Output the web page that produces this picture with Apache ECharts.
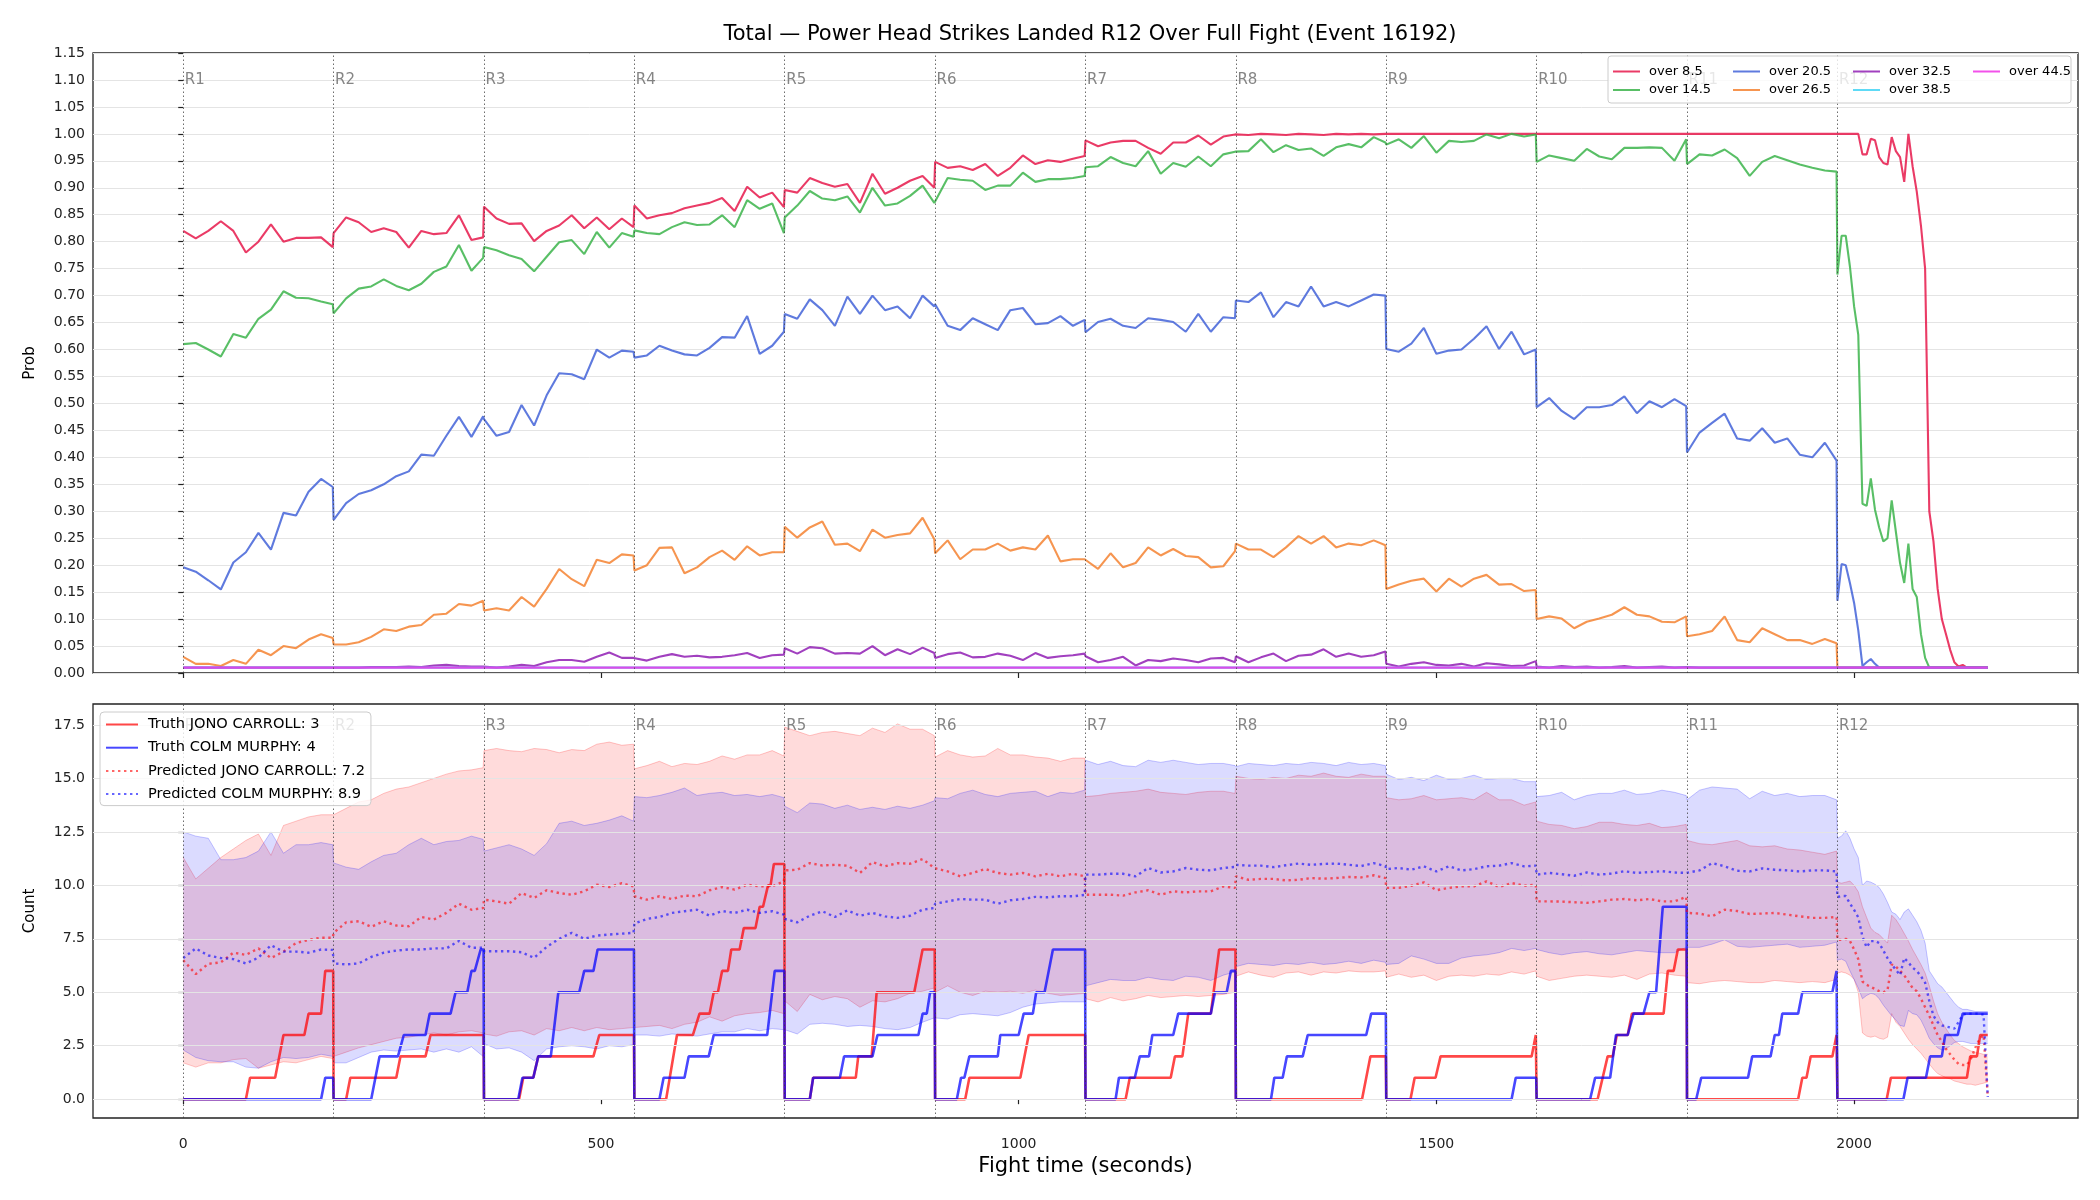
<!DOCTYPE html>
<html>
<head>
<meta charset="utf-8">
<title>Power Head Strikes Landed R12 Over Full Fight</title>
<script src="https://cdn.jsdelivr.net/npm/echarts@6/dist/echarts.min.js"></script>
<style>
html,body{margin:0;padding:0;background:#fff;}
#chart{width:2100px;height:1200px;}
</style>
</head>
<body>
<div id="chart"></div>
<script>
var roundStarts = [0,180,360,540,720,900,1080,1260,1440,1620,1800,1980];
var roundNames = ['R1','R2','R3','R4','R5','R6','R7','R8','R9','R10','R11','R12'];
var xTicks = [0,500,1000,1500,2000];
var countTicks = [0,2.5,5,7.5,10,12.5,15,17.5];

// sample times: 15 s inside rounds 1-11, 5 s in round 12
var tRounds = [
 0,15,30,45,60,75,90,105,120,135,150,165,179,
 180,195,210,225,240,255,270,285,300,315,330,345,359,
 360,375,390,405,420,435,450,465,480,495,510,525,539,
 540,555,570,585,600,615,630,645,660,675,690,705,719,
 720,735,750,765,780,795,810,825,840,855,870,885,899,
 900,915,930,945,960,975,990,1005,1020,1035,1050,1065,1079,
 1080,1095,1110,1125,1140,1155,1170,1185,1200,1215,1230,1245,1259,
 1260,1275,1290,1305,1320,1335,1350,1365,1380,1395,1410,1425,1439,
 1440,1455,1470,1485,1500,1515,1530,1545,1560,1575,1590,1605,1619,
 1620,1635,1650,1665,1680,1695,1710,1725,1740,1755,1770,1785,1799,
 1800,1815,1830,1845,1860,1875,1890,1905,1920,1935,1950,1965,1979];
var tFinal = [1980,1985,1990,1995,2000,2005,2010,2015,2020,2025,2030,2035,2040,2045,2050,2055,2060,2065,2070,2075,2080,2085,2090,2095,2100,2105,2110,2115,2120,2125,2130,2135,2140,2145,2150,2155,2160];
var times = tRounds.concat(tFinal);
var flatT = [0,2160];

var over85 = [
 .82,.806,.82,.838,.82,.78,.80,.832,.80,.807,.807,.808,.79,
 .816,.845,.836,.818,.825,.818,.789,.82,.814,.816,.849,.803,.808,
 .865,.843,.833,.834,.801,.82,.83,.849,.825,.845,.823,.843,.827,
 .867,.843,.849,.853,.862,.867,.872,.881,.857,.902,.882,.891,.864,
 .896,.891,.918,.909,.902,.907,.872,.926,.889,.90,.913,.922,.90,
 .948,.937,.94,.933,.944,.922,.937,.96,.944,.951,.948,.954,.959,
 .988,.977,.984,.987,.987,.974,.963,.984,.984,.997,.98,.995,.999,
 .999,.998,1,.999,.998,1,.999,.998,1,.999,1,.999,1,
 1,1,1,1,1,1,1,1,1,1,1,1,1,
 1,1,1,1,1,1,1,1,1,1,1,1,1,
 1,1,1,1,1,1,1,1,1,1,1,1,1,
 1,1,1,1,1,1,.962,.962,.991,.988,.957,.946,.943,.994,.968,.957,.911,1,.94,.893,.83,.75,.30,.244,.156,.10,.072,.043,.02,.012,.015,.01,.01,.01,.01,.01,.01];
var over145 = [
 .61,.612,.60,.587,.629,.622,.657,.674,.708,.696,.695,.689,.684,
 .667,.695,.713,.717,.73,.718,.71,.722,.744,.754,.794,.746,.77,
 .79,.784,.775,.768,.745,.772,.799,.803,.777,.818,.789,.816,.809,
 .821,.816,.814,.827,.836,.831,.832,.849,.827,.877,.861,.871,.816,
 .845,.867,.894,.88,.877,.884,.854,.90,.867,.871,.885,.904,.872,
 .874,.918,.915,.913,.896,.904,.904,.928,.911,.916,.916,.918,.922,
 .938,.94,.957,.946,.94,.968,.926,.946,.939,.958,.94,.962,.967,
 .967,.968,.99,.966,.979,.97,.973,.959,.975,.981,.975,.994,.984,
 .98,.99,.974,.996,.965,.987,.985,.987,.999,.992,1,.995,.999,
 .948,.96,.955,.95,.972,.958,.953,.974,.974,.975,.974,.95,.99,
 .944,.962,.96,.971,.955,.922,.948,.959,.951,.943,.937,.932,.93,
 .739,.811,.811,.754,.68,.627,.314,.31,.361,.303,.27,.244,.25,.32,.262,.204,.167,.24,.156,.141,.072,.028,.01,.01,.01,.01,.01,.01,.01,.01,.01,.01,.01,.01,.01,.01,.01];
var over205 = [
 .196,.188,.172,.155,.205,.224,.26,.229,.297,.292,.336,.36,.345,
 .284,.315,.332,.339,.35,.365,.374,.405,.403,.44,.475,.438,.476,
 .471,.44,.447,.497,.459,.515,.556,.554,.545,.60,.585,.598,.596,
 .585,.589,.607,.598,.591,.589,.603,.623,.622,.662,.592,.607,.633,
 .666,.657,.693,.673,.644,.698,.666,.70,.673,.68,.658,.70,.68,
 .684,.644,.636,.658,.647,.636,.673,.677,.647,.649,.662,.644,.655,
 .632,.651,.657,.644,.64,.658,.655,.651,.633,.666,.633,.66,.658,
 .691,.688,.706,.66,.688,.68,.717,.68,.688,.68,.691,.702,.70,
 .601,.596,.611,.64,.592,.598,.60,.62,.643,.601,.633,.591,.60,
 .493,.51,.486,.471,.493,.493,.497,.513,.482,.504,.493,.508,.495,
 .409,.446,.464,.481,.435,.431,.454,.427,.435,.405,.40,.427,.394,
 .134,.202,.20,.167,.13,.079,.013,.02,.026,.017,.01,.01,.01,.01,.01,.01,.01,.01,.01,.01,.01,.01,.01,.01,.01,.01,.01,.01,.01,.01,.01,.01,.01,.01,.01,.01,.01];
var over265 = [
 .03,.017,.017,.013,.024,.017,.043,.033,.05,.046,.062,.072,.065,
 .053,.053,.057,.067,.081,.078,.086,.089,.108,.11,.128,.125,.134,
 .116,.12,.116,.141,.123,.156,.193,.174,.161,.21,.204,.22,.218,
 .19,.20,.232,.233,.185,.196,.215,.227,.21,.235,.218,.224,.224,
 .271,.251,.27,.281,.238,.24,.226,.266,.251,.256,.259,.288,.248,
 .222,.246,.211,.229,.229,.24,.227,.233,.229,.255,.207,.211,.211,
 .211,.193,.222,.196,.204,.233,.218,.23,.217,.215,.196,.198,.226,
 .24,.229,.229,.215,.233,.254,.24,.254,.233,.24,.237,.246,.237,
 .156,.164,.171,.175,.151,.175,.16,.175,.182,.164,.165,.152,.154,
 .10,.105,.101,.083,.095,.101,.108,.122,.108,.105,.095,.094,.105,
 .068,.072,.078,.105,.061,.057,.083,.072,.061,.061,.054,.063,.055,
 .01,.01,.01,.01,.01,.01,.01,.01,.01,.01,.01,.01,.01,.01,.01,.01,.01,.01,.01,.01,.01,.01,.01,.01,.01,.01,.01,.01,.01,.01,.01,.01,.01,.01,.01,.01,.01];
var over325 = [
 .01,.01,.01,.01,.01,.01,.01,.01,.01,.01,.01,.01,.01,
 .01,.01,.01,.011,.011,.011,.012,.011,.014,.015,.013,.012,.012,
 .013,.01,.012,.015,.013,.02,.024,.024,.021,.03,.038,.028,.028,
 .028,.023,.03,.035,.03,.032,.029,.03,.033,.037,.028,.033,.034,
 .046,.036,.048,.046,.036,.037,.036,.05,.033,.044,.035,.047,.037,
 .028,.035,.038,.029,.03,.036,.032,.024,.037,.028,.031,.033,.036,
 .031,.02,.024,.03,.014,.024,.022,.027,.024,.02,.027,.028,.02,
 .031,.02,.029,.036,.022,.032,.034,.044,.03,.036,.03,.033,.04,
 .017,.012,.017,.02,.015,.014,.017,.012,.018,.016,.013,.014,.022,
 .012,.01,.013,.011,.012,.01,.011,.013,.01,.011,.012,.01,.011,
 .01,.01,.01,.01,.01,.01,.01,.01,.01,.01,.01,.01,.01,
 .01,.01,.01,.01,.01,.01,.01,.01,.01,.01,.01,.01,.01,.01,.01,.01,.01,.01,.01,.01,.01,.01,.01,.01,.01,.01,.01,.01,.01,.01,.01,.01,.01,.01,.01,.01,.01];
var over385 = [.01,.01];
var over445 = [.01,.01];

var predRed = [
 6.5,5.85,6.33,6.4,6.85,6.75,7.05,6.6,6.9,7.3,7.45,7.55,7.55,
 7.78,8.27,8.32,8.06,8.32,8.12,8.09,8.52,8.4,8.71,9.14,8.86,8.94,
 9.33,9.25,9.14,9.64,9.41,9.77,9.64,9.56,9.72,10.03,9.92,10.1,9.95,
 9.49,9.33,9.49,9.36,9.52,9.49,9.77,9.92,9.8,10.03,9.95,9.95,10.19,
 10.7,10.73,11.04,10.93,10.96,10.92,10.58,11.09,10.89,11.04,11.01,11.23,10.81,
 10.73,10.65,10.42,10.58,10.76,10.58,10.5,10.58,10.42,10.54,10.42,10.54,10.42,
 9.56,9.56,9.56,9.52,9.67,9.77,9.56,9.72,9.67,9.72,9.72,9.95,9.88,
 10.42,10.26,10.3,10.3,10.23,10.26,10.34,10.31,10.34,10.39,10.37,10.47,10.34,
 9.88,9.88,9.98,10.14,9.77,9.88,9.95,9.95,10.19,9.92,10.11,9.98,10.03,
 9.25,9.25,9.24,9.21,9.18,9.25,9.33,9.36,9.3,9.36,9.25,9.25,9.46,
 8.71,8.68,8.55,8.86,8.8,8.66,8.68,8.71,8.63,8.55,8.48,8.48,8.52,
 7.45,7.45,7.5,7.4,7.0,6.55,5.5,5.35,5.25,5.15,5.05,5.0,5.1,6.3,6.2,6.0,5.8,5.5,5.2,5.05,4.7,4.3,3.9,3.45,3.0,2.7,2.35,2.1,1.85,1.65,1.6,1.6,1.9,2.4,2.8,3.0,0.15];
var predBlue = [
 6.6,7.05,6.72,6.6,6.55,6.35,6.62,7.2,6.9,6.9,6.85,7.0,6.98,
 6.35,6.3,6.35,6.65,6.85,6.95,7.0,7.0,7.05,7.05,7.4,7.08,7.08,
 6.92,6.92,6.92,6.87,6.61,7.12,7.5,7.78,7.5,7.65,7.7,7.74,7.78,
 8.21,8.43,8.52,8.71,8.79,8.86,8.58,8.8,8.71,8.86,8.71,8.79,8.63,
 8.43,8.27,8.58,8.79,8.52,8.83,8.58,8.71,8.55,8.48,8.58,8.86,8.94,
 9.14,9.25,9.36,9.33,9.33,9.14,9.3,9.36,9.46,9.44,9.49,9.49,9.55,
 10.5,10.5,10.54,10.54,10.42,10.81,10.6,10.65,10.81,10.73,10.7,10.81,10.86,
 10.96,10.92,10.92,10.85,10.94,11.02,10.96,11.0,11.02,10.96,10.9,11.04,10.9,
 10.76,10.81,10.73,10.89,10.65,10.89,10.7,10.76,10.89,10.92,11.04,10.89,10.92,
 10.5,10.58,10.52,10.45,10.6,10.5,10.55,10.66,10.58,10.62,10.66,10.6,10.58,
 10.58,10.7,11.04,10.89,10.68,10.65,10.79,10.73,10.7,10.65,10.7,10.7,10.65,
 9.45,9.5,9.5,9.15,8.85,8.5,7.6,7.1,7.4,7.4,7.3,6.95,6.6,6.3,6.05,5.8,6.6,6.4,6.15,6.0,5.75,5.45,4.6,3.9,3.6,3.45,3.4,3.35,3.3,3.6,3.95,4.0,4.0,4.0,4.0,3.95,0.1];

var redUp = [
 11.3,10.3,10.8,11.3,11.7,12.1,12.4,11.4,12.8,13.0,13.2,13.3,13.3,
 13.3,13.6,13.9,14.0,14.3,14.5,14.6,14.8,15.0,15.2,15.35,15.4,15.5,
 16.3,16.4,16.3,16.25,16.4,16.35,16.2,16.35,16.3,16.6,16.7,16.55,16.6,
 15.45,15.6,15.8,15.55,15.7,15.65,15.8,16.05,15.9,16.1,16.1,16.3,16.05,
 17.4,17.2,17.0,17.15,17.2,17.1,17.0,17.35,17.15,17.55,17.3,17.3,17.0,
 16.0,16.3,16.1,16.0,16.05,16.4,16.1,16.1,16.0,15.95,15.8,15.95,15.95,
 14.15,14.2,14.3,14.35,14.4,14.5,14.35,14.3,14.25,14.35,14.4,14.4,14.3,
 15.1,15.0,14.95,15.05,15.0,15.15,15.1,15.25,15.1,15.05,15.2,15.1,15.1,
 14.1,14.0,14.05,14.2,14.0,14.05,14.1,14.0,14.35,14.0,14.0,13.75,13.9,
 13.0,12.85,12.8,12.65,12.75,12.95,12.95,12.85,12.8,12.9,12.7,12.75,12.85,
 12.1,11.95,11.9,12.0,12.1,11.85,11.8,11.85,11.7,11.65,11.55,11.45,11.6,
 10.15,10.1,10.15,10.2,10.0,9.7,9.0,8.5,8.0,7.8,7.7,7.5,7.3,8.6,8.4,8.1,7.75,7.4,7.0,6.65,6.3,5.9,5.3,4.6,4.0,3.6,3.3,3.0,2.75,2.6,2.45,2.35,2.25,2.2,2.15,2.1,2.1];
var redLo = [
 1.7,1.5,1.7,1.7,1.85,1.9,1.45,1.6,1.75,1.7,1.85,2.0,1.9,
 2.0,2.2,2.4,2.55,2.7,2.85,2.9,3.0,3.1,3.0,3.15,3.2,3.1,
 3.05,2.95,3.15,3.2,3.0,3.3,3.2,3.35,3.2,3.35,3.25,3.3,3.35,
 3.35,3.4,3.45,3.3,3.5,3.6,3.85,3.65,3.9,4.0,4.05,4.15,4.0,
 4.6,4.1,4.9,4.65,4.8,4.7,4.3,4.6,4.55,4.7,4.95,5.05,5.2,
 5.0,5.3,5.0,4.85,5.05,5.0,5.05,4.95,5.1,4.95,4.85,4.9,4.95,
 4.7,4.55,4.75,4.6,4.7,4.85,4.75,4.8,4.85,4.8,4.85,4.9,5.0,
 5.75,5.95,5.8,5.7,5.9,5.95,5.8,5.95,5.9,6.0,5.95,5.95,6.0,
 5.7,5.85,5.7,5.8,5.55,5.75,5.8,5.75,5.85,5.8,5.95,5.85,6.0,
 5.75,5.55,5.65,5.75,5.8,5.75,5.7,5.8,5.6,5.85,5.9,5.8,5.75,
 5.45,5.4,5.5,5.55,5.5,5.45,5.45,5.55,5.5,5.45,5.5,5.45,5.6,
 5.9,5.95,5.9,5.8,5.6,5.0,3.1,2.95,2.9,2.95,2.85,2.8,2.9,4.0,3.6,3.4,3.1,2.8,2.55,2.35,2.15,1.9,1.65,1.4,1.2,1.1,1.0,0.95,0.85,0.8,0.75,0.7,0.7,0.65,0.7,0.75,0.8];
var blueUp = [
 12.5,12.3,12.2,11.2,11.2,11.3,11.6,12.5,11.5,11.9,11.9,12.0,11.9,
 11.05,10.85,10.75,11.1,11.4,11.5,11.9,12.2,11.9,12.05,12.1,12.3,12.15,
 11.6,11.75,11.9,11.7,11.4,11.95,12.9,13.0,12.8,12.9,13.05,13.25,13.0,
 14.15,14.1,14.2,14.35,14.55,14.2,14.3,14.35,14.2,14.25,14.15,14.25,14.1,
 13.7,13.4,13.85,13.8,13.6,13.75,13.55,13.65,13.55,13.7,13.6,13.75,13.95,
 14.1,14.05,14.3,14.45,14.25,14.15,14.3,14.35,14.4,14.15,14.35,14.3,14.45,
 15.85,15.65,15.8,15.6,15.55,15.85,15.75,15.85,15.75,15.65,15.7,15.7,15.6,
 15.55,15.7,15.65,15.6,15.7,15.65,15.75,15.7,15.6,15.75,15.65,15.7,15.6,
 15.2,14.95,15.05,14.9,15.15,14.95,15.0,15.15,14.95,15.0,15.0,14.85,14.85,
 14.15,14.2,14.35,14.0,14.2,14.3,14.3,14.45,14.25,14.3,14.45,14.35,14.2,
 14.0,14.45,14.6,14.55,14.5,14.05,14.4,14.2,14.3,14.15,14.2,14.2,14.0,
 12.2,12.3,12.55,12.2,11.7,11.3,10.0,10.2,10.15,10.05,9.9,9.6,9.2,8.75,8.65,8.4,8.75,8.9,8.6,8.3,7.9,7.3,6.0,5.7,5.4,5.25,5.0,4.75,4.5,4.3,4.2,4.2,4.15,4.1,4.1,4.1,4.1];
var blueLo = [
 2.3,1.95,1.8,1.75,1.75,1.5,1.45,1.75,1.95,1.9,1.95,2.1,2.0,
 1.7,1.7,1.95,2.2,2.3,2.25,2.3,2.35,2.2,2.35,2.2,2.45,2.0,
 2.6,2.35,2.4,2.2,1.8,2.35,2.45,2.5,2.45,2.35,2.5,2.45,2.55,
 3.0,3.0,2.95,3.05,3.0,2.95,3.05,3.15,3.15,3.3,3.2,3.3,3.25,
 3.25,3.05,3.5,3.55,3.5,3.4,3.45,3.4,3.3,3.25,3.35,3.6,3.8,
 3.8,3.75,3.95,4.0,3.95,3.9,4.05,4.3,4.45,4.5,4.55,4.55,4.55,
 5.3,5.45,5.6,5.55,5.55,5.7,5.6,5.55,5.75,5.7,5.55,5.8,5.95,
 6.2,6.35,6.3,6.25,6.35,6.3,6.4,6.3,6.35,6.45,6.35,6.5,6.4,
 6.3,6.35,6.7,6.55,6.35,6.35,6.6,6.7,6.75,6.85,7.05,6.95,7.05,
 7.0,6.85,6.75,6.85,6.9,6.8,6.75,6.85,6.95,6.9,6.85,6.85,7.1,
 7.1,7.1,7.25,7.45,7.15,7.1,7.15,7.2,7.25,7.1,7.15,7.2,7.35,
 6.5,6.55,6.45,6.0,5.6,5.2,4.7,4.85,4.95,4.9,4.7,4.4,4.15,3.9,3.7,3.45,3.4,4.15,4.0,3.95,3.7,3.3,2.85,2.6,2.4,2.3,2.35,2.5,2.65,2.7,2.7,2.65,2.6,2.6,2.6,2.6,2.6];

// running truth counts, reset each round
var truthRedT = [0,75,80,110,120,145,150,165,170,179.5,
 180,195,200,255,260,290,296,359.5,
 360,402,407,419,425,491,498,539.5,
 540,578,591,610,618,630,635,640,645,652,656,666,671,685,690,694,700,703,707,719.5,
 720,750,754,805,808,824,830,875,885,899.5,
 900,936,941,1002,1012,1079.5,
 1080,1128,1133,1182,1187,1196,1203,1230,1240,1259.5,
 1260,1411,1421,1439.5,
 1440,1469,1474,1499,1505,1614,1619,1619.5,
 1620,1693,1705,1711,1716,1729,1734,1772,1777,1784,1789,1799.5,
 1800,1933,1938,1943,1948,1974,1979,1979.5,
 1980,2039,2044,2135,2139,2147,2151,2160];
var truthRedV = [0,0,1,1,3,3,4,4,6,6,
 0,0,1,1,2,2,3,3,
 0,0,1,1,2,2,3,3,
 0,0,3,3,4,4,5,5,6,6,7,7,8,8,9,9,10,10,11,11,
 0,0,1,1,2,2,5,5,7,7,
 0,0,1,1,3,3,
 0,0,1,1,2,2,4,4,7,7,
 0,0,2,2,
 0,0,1,1,2,2,3,3,
 0,0,2,2,3,3,4,4,6,6,7,7,
 0,0,1,1,2,2,3,3,
 0,0,1,1,2,2,3,3];
var truthBlueT = [0,165,170,179.5,
 180,225,235,257,264,290,295,320,326,340,345,349,356,359.5,
 360,401,406,419,425,440,449,474,480,491,496,539.5,
 540,570,575,600,605,629,635,699,708,719.5,
 720,750,754,786,791,825,831,880,885,890,894,899.5,
 900,926,931,935,941,975,978,1000,1006,1017,1021,1031,1041,1079.5,
 1080,1116,1120,1139,1145,1156,1160,1185,1191,1230,1235,1249,1254,1259.5,
 1260,1302,1306,1316,1321,1340,1346,1416,1422,1439.5,
 1440,1590,1595,1619.5,
 1620,1684,1690,1708,1715,1729,1736,1748,1755,1763,1771,1799.5,
 1800,1811,1817,1873,1878,1900,1905,1910,1914,1933,1938,1974,1979,1979.5,
 1980,2059,2064,2086,2091,2105,2109,2124,2130,2160];
var truthBlueV = [0,0,1,1,
 0,0,2,2,3,3,4,4,5,5,6,6,7,7,
 0,0,1,1,2,2,5,5,6,6,7,7,
 0,0,1,1,2,2,3,3,6,6,
 0,0,1,1,2,2,3,3,4,4,5,5,
 0,0,1,1,2,2,3,3,4,4,5,5,7,7,
 0,0,1,1,2,2,3,3,4,4,5,5,6,6,
 0,0,1,1,2,2,3,3,4,4,
 0,0,1,1,
 0,0,1,1,3,3,4,4,5,5,9,9,
 0,0,1,1,2,2,3,3,4,4,5,5,6,6,
 0,0,1,1,2,2,3,3,4,4];

function zip(ts, vs){
	return ts.map(function(t, i){ return [t, vs[i]]; });
}
function pairs(vs){ return zip(times, vs); }

var FONT = 'DejaVu Sans';
var INK = '#222';

var probDefs = [
	{name:'over 8.5', color:'#e6194b', t:times, v:over85},
	{name:'over 14.5', color:'#3cb44b', t:times, v:over145},
	{name:'over 20.5', color:'#4363d8', t:times, v:over205},
	{name:'over 26.5', color:'#f58231', t:times, v:over265},
	{name:'over 32.5', color:'#911eb4', t:times, v:over325},
	{name:'over 38.5', color:'#42d4f4', t:flatT, v:over385},
	{name:'over 44.5', color:'#f032e6', t:flatT, v:over445}
];

var series = [];
probDefs.forEach(function(d){
	series.push({
		name:d.name, type:'line', xAxisIndex:0, yAxisIndex:0,
		data:zip(d.t, d.v), symbol:'none', color:d.color,
		lineStyle:{color:d.color, width:2.1, opacity:0.85}
	});
});

// shaded interval between lower and upper bound, drawn as one polygon
function band(key, lo, up, rgb){
	series.push({
		name:key, type:'custom', xAxisIndex:1, yAxisIndex:1, z:2,
		data:times.map(function(t, i){ return [t, lo[i], up[i]]; }),
		encode:{x:0, y:[1, 2]},
		renderItem:function(params, api){
			if (params.dataIndex !== 0) return null;
			var top = [], bot = [];
			for (var i = 0; i < times.length; i++) {
				top.push(api.coord([times[i], up[i]]));
				bot.push(api.coord([times[i], lo[i]]));
			}
			var edge = {stroke:'rgba(' + rgb + ',0.22)', lineWidth:1, fill:'none'};
			return {type:'group', children:[
				{type:'polygon', shape:{points:top.concat(bot.slice().reverse())},
					style:{fill:'rgba(' + rgb + ',0.14)'}},
				{type:'polyline', shape:{points:top}, style:edge},
				{type:'polyline', shape:{points:bot}, style:edge}
			]};
		}
	});
}
band('red band', redLo, redUp, '255,0,0');
band('blue band', blueLo, blueUp, '0,0,255');

series.push({
	name:'Truth JONO CARROLL: 3', type:'line', xAxisIndex:1, yAxisIndex:1,
	data:zip(truthRedT, truthRedV), symbol:'none', color:'rgba(255,0,0,0.72)',
	lineStyle:{color:'rgba(255,0,0,0.72)', width:2.6}
});
series.push({
	name:'Truth COLM MURPHY: 4', type:'line', xAxisIndex:1, yAxisIndex:1,
	data:zip(truthBlueT, truthBlueV), symbol:'none', color:'rgba(0,0,255,0.72)',
	lineStyle:{color:'rgba(0,0,255,0.72)', width:2.6}
});
series.push({
	name:'Predicted JONO CARROLL: 7.2', type:'line', xAxisIndex:1, yAxisIndex:1,
	data:pairs(predRed), symbol:'none', color:'rgba(255,0,0,0.6)',
	lineStyle:{color:'rgba(255,0,0,0.6)', width:2.4, type:[2.4,3.6]}
});
series.push({
	name:'Predicted COLM MURPHY: 8.9', type:'line', xAxisIndex:1, yAxisIndex:1,
	data:pairs(predBlue), symbol:'none', color:'rgba(0,0,255,0.6)',
	lineStyle:{color:'rgba(0,0,255,0.6)', width:2.4, type:[2.4,3.6]}
});

// horizontal grid for the count panel (its axis min is not on a tick)
series.push({
	name:'count grid', type:'line', xAxisIndex:1, yAxisIndex:1, data:[], z:1,
	markLine:{silent:true, symbol:['none','none'], label:{show:false}, animation:false,
		lineStyle:{color:'#e4e4e4', width:1, type:'solid'},
		data:countTicks.map(function(v){ return {yAxis:v}; })}
});

function roundMarks(ax, yLab){
	series.push({
		name:'rounds ' + ax, type:'scatter', xAxisIndex:ax, yAxisIndex:ax, z:5,
		data:roundStarts.map(function(t){ return [t, yLab]; }),
		symbolSize:1, itemStyle:{color:'rgba(0,0,0,0)'},
		label:{show:true, position:'right', distance:1, color:'#666', fontSize:15, fontFamily:FONT,
			formatter:function(p){ return roundNames[p.dataIndex]; }},
		markLine:{silent:true, symbol:['none','none'], label:{show:false}, animation:false,
			lineStyle:{color:'rgba(60,60,60,0.75)', width:1, type:[1.5,2.5]},
			data:roundStarts.map(function(t){ return {xAxis:t}; })}
	});
}
roundMarks(0, 1.10);
roundMarks(1, 17.44);

function xAxisCfg(idx, showLabels){
	var a = {
		type:'value', gridIndex:idx, min:-108, max:2268,
		axisLine:{show:false},
		axisTick:{show:true, length:5, customValues:xTicks, lineStyle:{color:INK, width:1.2}},
		axisLabel:{show:showLabels, customValues:xTicks, fontSize:14, color:INK, margin:19, fontFamily:FONT,
			formatter:function(v){ return String(v); }},
		splitLine:{show:false}
	};
	if (showLabels) {
		a.name = 'Fight time (seconds)';
		a.nameLocation = 'middle';
		a.nameGap = 38;
		a.nameTextStyle = {fontSize:21, color:'#000', fontFamily:FONT};
	}
	return a;
}

// top legend: four columns of at most two entries, like the source layout
var topCols = [['over 8.5','over 14.5'], ['over 20.5','over 26.5'], ['over 32.5','over 38.5'], ['over 44.5']];
var legends = topCols.map(function(col, k){
	return {
		orient:'vertical', left:1612 + k * 120, top:65, padding:0, data:col,
		itemWidth:27, itemHeight:10, itemGap:5.5, z:10, selectedMode:false,
		itemStyle:{color:'rgba(0,0,0,0)', borderWidth:0},
		textStyle:{fontSize:13, color:'#000', fontFamily:FONT, padding:[0,0,0,4]}
	};
});
legends.push({
	orient:'vertical', left:100, top:712, z:10, selectedMode:false,
	itemWidth:32, itemHeight:14, itemGap:8.2,
	itemStyle:{color:'rgba(0,0,0,0)', borderWidth:0},
	backgroundColor:'rgba(255,255,255,0.8)', borderColor:'#cccccc', borderWidth:1, borderRadius:4,
	padding:[5,6,4,5],
	textStyle:{fontSize:14.6, color:'#000', fontFamily:FONT, padding:[0,0,0,5]},
	data:['Truth JONO CARROLL: 3','Truth COLM MURPHY: 4','Predicted JONO CARROLL: 7.2','Predicted COLM MURPHY: 8.9']
});

var option = {
	animation:false,
	backgroundColor:'#fff',
	textStyle:{fontFamily:FONT},
	title:{
		text:'Total \u2014 Power Head Strikes Landed R12 Over Full Fight (Event 16192)',
		left:1085, top:19, textAlign:'center',
		textStyle:{fontSize:21, fontWeight:'normal', color:'#000', fontFamily:FONT}
	},
	grid:[
		{left:93, top:53, width:1985, height:620, show:true, borderColor:INK, borderWidth:1.3, backgroundColor:'transparent'},
		{left:93, top:704, width:1985, height:414, show:true, borderColor:INK, borderWidth:1.3, backgroundColor:'transparent'}
	],
	xAxis:[xAxisCfg(0, false), xAxisCfg(1, true)],
	yAxis:[
		{type:'value', gridIndex:0, min:0, max:1.15, interval:0.05,
			name:'Prob', nameLocation:'middle', nameGap:55,
			nameTextStyle:{fontSize:15, color:'#000', fontFamily:FONT},
			axisLine:{show:false},
			axisTick:{show:true, length:5, lineStyle:{color:INK, width:1.2}},
			axisLabel:{fontSize:14, color:INK, margin:8, fontFamily:FONT,
				formatter:function(v){ return v.toFixed(2); }},
			splitLine:{show:true, lineStyle:{color:'#e4e4e4', width:1}}},
		{type:'value', gridIndex:1, min:-0.88, max:18.48,
			name:'Count', nameLocation:'middle', nameGap:55,
			nameTextStyle:{fontSize:15, color:'#000', fontFamily:FONT},
			axisLine:{show:false},
			axisTick:{show:true, length:5, customValues:countTicks, lineStyle:{color:INK, width:1.2}},
			axisLabel:{fontSize:14, color:INK, margin:8, fontFamily:FONT, customValues:countTicks,
				formatter:function(v){ return v.toFixed(1); }},
			splitLine:{show:false}}
	],
	legend:legends,
	graphic:[
		{type:'rect', z:9, shape:{x:1608, y:56, width:463, height:47, r:3},
			style:{fill:'rgba(255,255,255,0.8)', stroke:'#cccccc', lineWidth:1}}
	],
	series:series
};

var chart = echarts.init(document.getElementById('chart'));
chart.setOption(option);
</script>
</body>
</html>
